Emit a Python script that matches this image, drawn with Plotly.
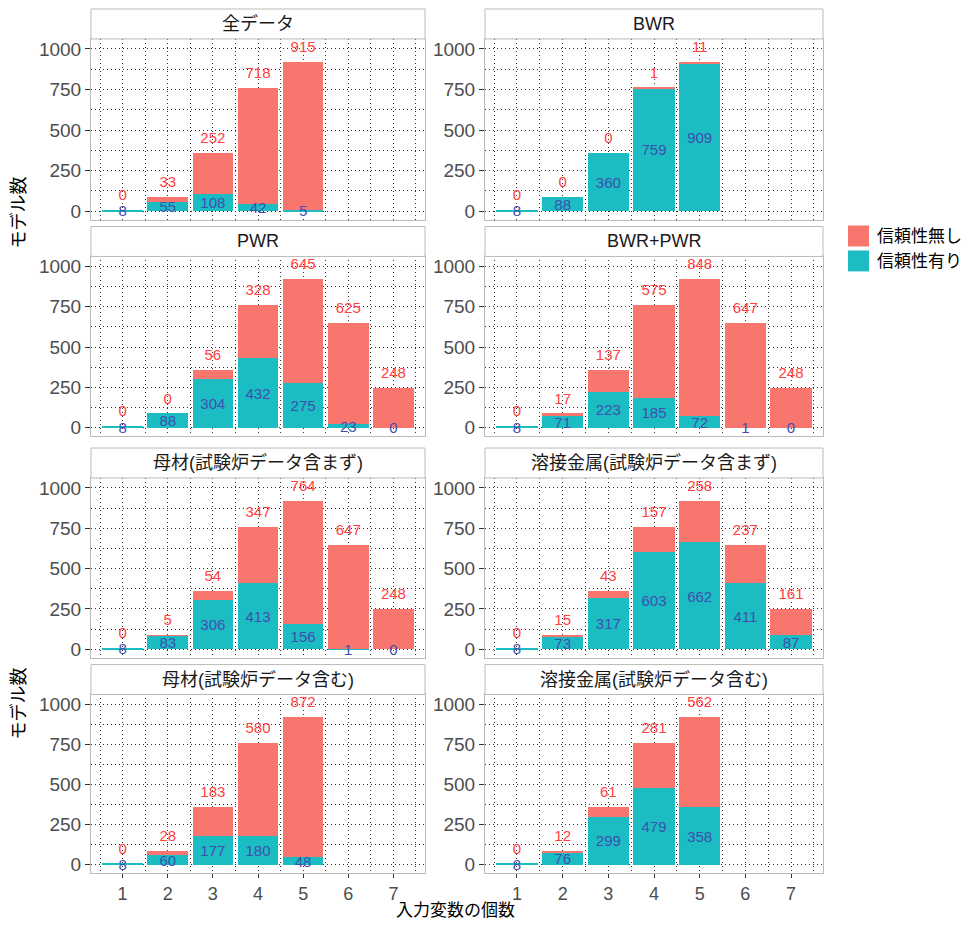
import plotly.graph_objects as go

# 入力変数の個数
n_vars = [1, 2, 3, 4, 5, 6, 7]

# パネル名
titles = ["全データ", "BWR", "PWR", "BWR+PWR",
          "母材(試験炉データ含まず)", "溶接金属(試験炉データ含まず)",
          "母材(試験炉データ含む)", "溶接金属(試験炉データ含む)"]

# 信頼性無し / 信頼性有り
all_ng = [0, 33, 252, 718, 915]
all_ok = [8, 55, 108, 42, 5]
bwr_ng = [0, 0, 0, 1, 11]
bwr_ok = [8, 88, 360, 759, 909]
pwr_ng = [0, 0, 56, 328, 645, 625, 248]
pwr_ok = [8, 88, 304, 432, 275, 23, 0]
bp_ng = [0, 17, 137, 575, 848, 647, 248]
bp_ok = [8, 71, 223, 185, 72, 1, 0]
base_ex_ng = [0, 5, 54, 347, 764, 647, 248]
base_ex_ok = [8, 83, 306, 413, 156, 1, 0]
weld_ex_ng = [0, 15, 43, 157, 258, 237, 161]
weld_ex_ok = [8, 73, 317, 603, 662, 411, 87]
base_in_ng = [0, 28, 183, 580, 872]
base_in_ok = [8, 60, 177, 180, 48]
weld_in_ng = [0, 12, 61, 281, 562]
weld_in_ok = [8, 76, 299, 479, 358]

ng_list = [all_ng, bwr_ng, pwr_ng, bp_ng, base_ex_ng, weld_ex_ng, base_in_ng, weld_in_ng]
ok_list = [all_ok, bwr_ok, pwr_ok, bp_ok, base_ex_ok, weld_ex_ok, base_in_ok, weld_in_ok]

# ページの余白(8px)を差し引いた図のサイズ
PAD = 8
W, H = 973 - 2 * PAD, 930 - 2 * PAD
FONT = "Liberation Sans, Noto Sans CJK JP, sans-serif"
RED = "#F8766D"
TEAL = "#1BBDC2"
GRID = "#333333"
BORDER = "#BBBBBB"


def px(x):
    return (x - PAD) / W


def py(y):
    return 1 - (y - PAD) / H


col_px = [(91, 425), (485, 823)]
row_px = [(39, 220), (257, 437), (479, 659), (696, 875)]
strip_h = 30

fig = go.Figure()
layout = {}
shapes = []
annotations = []

for i in range(8):
    r, c = divmod(i, 2)
    k = "" if i == 0 else str(i + 1)
    x0, x1 = col_px[c]
    top, bot = row_px[r]
    ng = ng_list[i]
    ok = ok_list[i]
    xs = n_vars[:len(ng)]
    total = [a + b for a, b in zip(ng, ok)]

    fig.add_trace(go.Bar(x=xs, y=ok, width=0.9, marker_color=TEAL, marker_line_width=0,
                         name="信頼性有り", showlegend=False, xaxis="x" + k, yaxis="y" + k))
    fig.add_trace(go.Bar(x=xs, y=ng, width=0.9, marker_color=RED, marker_line_width=0,
                         name="信頼性無し", showlegend=False, xaxis="x" + k, yaxis="y" + k))
    fig.add_trace(go.Scatter(x=xs, y=[t + 85 for t in total], mode="text", text=[str(v) for v in ng],
                             textfont=dict(color="#FF4040", size=15, family=FONT), cliponaxis=False,
                             showlegend=False, hoverinfo="skip", xaxis="x" + k, yaxis="y" + k))
    fig.add_trace(go.Scatter(x=xs, y=[v / 2 - 12 for v in ok], mode="text", text=[str(v) for v in ok],
                             textfont=dict(color="#3F4FAF", size=15, family=FONT), cliponaxis=False,
                             showlegend=False, hoverinfo="skip", xaxis="x" + k, yaxis="y" + k))

    bottom_row = r == 3
    layout["xaxis" + k] = dict(
        domain=[px(x0), px(x1)], anchor="y" + k, range=[0.3, 7.7],
        tickmode="linear", tick0=1, dtick=1,
        showticklabels=bottom_row, ticks="outside" if bottom_row else "",
        ticklen=4, tickcolor=GRID, tickfont=dict(size=18, color="#4D4D4D", family=FONT),
        showgrid=True, gridcolor=GRID, griddash="1px,3px", gridwidth=1,
        minor=dict(dtick=0.5, tick0=0.5, showgrid=True, gridcolor=GRID, griddash="1px,3px", gridwidth=1),
        showline=True, mirror=True, linecolor=BORDER, linewidth=1, zeroline=False,
    )
    layout["yaxis" + k] = dict(
        domain=[py(bot), py(top)], anchor="x" + k, range=[-52, 1062],
        tickmode="linear", tick0=0, dtick=250, ticks="outside", ticklen=5, tickcolor=GRID,
        tickfont=dict(size=19, color="#4D4D4D", family=FONT),
        showgrid=True, gridcolor=GRID, griddash="1px,3px", gridwidth=1,
        minor=dict(dtick=125, tick0=0, showgrid=True, gridcolor=GRID, griddash="1px,3px", gridwidth=1),
        showline=True, mirror=True, linecolor=BORDER, linewidth=1, zeroline=False,
    )

    # ストリップ
    shapes.append(dict(type="rect", xref="paper", yref="paper",
                       x0=px(x0), x1=px(x1), y0=py(top), y1=py(top - strip_h),
                       fillcolor="white", line=dict(color=BORDER, width=1)))
    annotations.append(dict(text=titles[i], xref="paper", yref="paper", showarrow=False,
                            x=px((x0 + x1) / 2), y=py(top - strip_h / 2),
                            xanchor="center", yanchor="middle",
                            font=dict(size=18, color="#1A1A1A", family=FONT)))

# 軸タイトル
annotations.append(dict(text="入力変数の個数", xref="paper", yref="paper", showarrow=False,
                        x=px(455), y=py(912), xanchor="center", yanchor="middle",
                        font=dict(size=17, color="black", family=FONT)))
for yc in [213, 705]:
    annotations.append(dict(text="モデル数", xref="paper", yref="paper", showarrow=False,
                            x=px(19), y=py(yc), xanchor="center", yanchor="middle", textangle=-90,
                            font=dict(size=18, color="black", family=FONT)))

# 凡例
for j, (lab, colr) in enumerate([("信頼性無し", RED), ("信頼性有り", TEAL)]):
    ytop = 226 + j * 25
    shapes.append(dict(type="rect", xref="paper", yref="paper",
                       x0=px(848), x1=px(869), y0=py(ytop + 21), y1=py(ytop),
                       fillcolor=colr, line=dict(width=0)))
    annotations.append(dict(text=lab, xref="paper", yref="paper", showarrow=False,
                            x=px(875), y=py(ytop + 11), xanchor="left", yanchor="middle",
                            font=dict(size=17, color="black", family=FONT)))

fig.update_layout(
    width=W, height=H, barmode="stack", bargap=0.1,
    margin=dict(l=0, r=0, t=0, b=0),
    plot_bgcolor="white", paper_bgcolor="white",
    font=dict(family=FONT),
    shapes=shapes, annotations=annotations,
    **layout,
)
fig.write_html("out.html")
